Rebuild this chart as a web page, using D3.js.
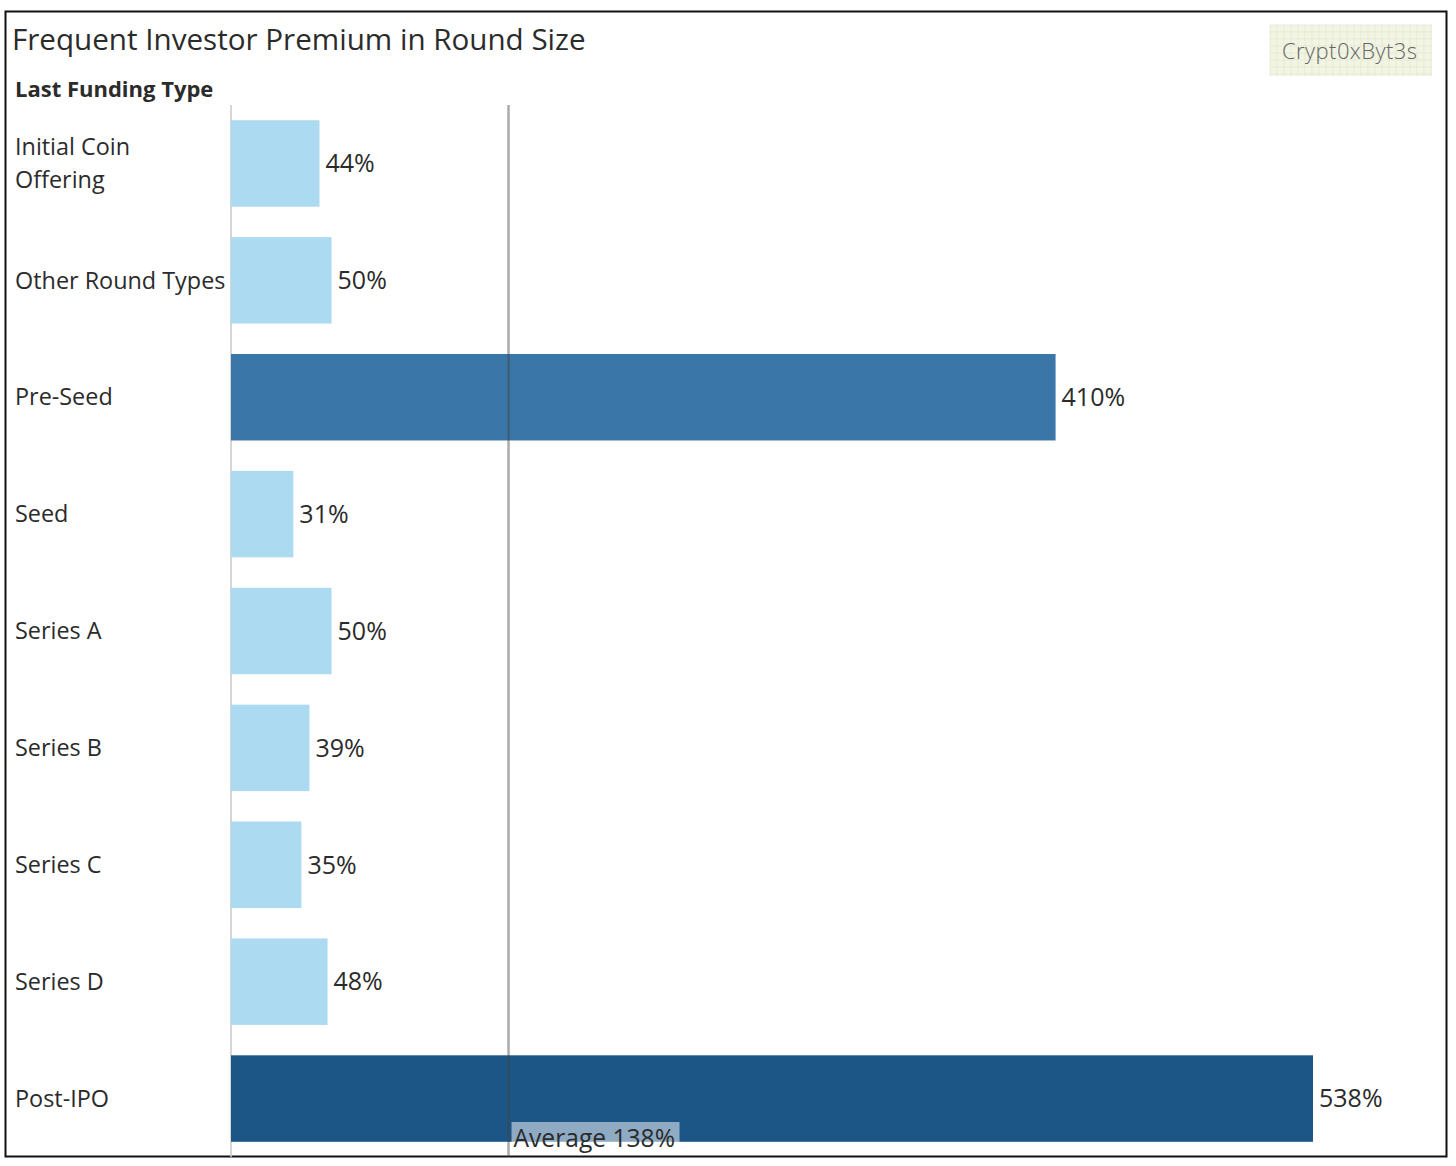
<!DOCTYPE html>
<html>
<head>
<meta charset="utf-8">
<script src="https://cdn.jsdelivr.net/npm/d3@7"></script>
<style>
  html, body { margin: 0; padding: 0; background: #fff; }
  svg { display: block; }
  text { font-family: "Open Sans", "Noto Sans", sans-serif; fill: #2b2b2b; }
</style>
</head>
<body>
<svg id="chart" width="1456" height="1166"></svg>
<script>
const categories = ["Initial Coin Offering", "Other Round Types", "Pre-Seed", "Seed", "Series A", "Series B", "Series C", "Series D", "Post-IPO"];
const categoryLines = [["Initial Coin", "Offering"], ["Other Round Types"], ["Pre-Seed"], ["Seed"], ["Series A"], ["Series B"], ["Series C"], ["Series D"], ["Post-IPO"]];
const premiums = [44, 50, 410, 31, 50, 39, 35, 48, 538];
const barColors = ["#acdaf1", "#acdaf1", "#3a76a8", "#acdaf1", "#acdaf1", "#acdaf1", "#acdaf1", "#acdaf1", "#1c5686"];
const averageValue = 138;
const titleText = "Frequent Investor Premium in Round Size";
const axisTitle = "Last Funding Type";
const watermark = "Crypt0xByt3s";

const svg = d3.select("#chart");

// outer border
svg.append("rect").attr("x", 5.5).attr("y", 11.5).attr("width", 1441).attr("height", 1145)
  .attr("fill", "#fff").attr("stroke", "#111").attr("stroke-width", 2);

svg.append("text").attr("x", 12).attr("y", 50).attr("font-size", 29.6).text(titleText);
svg.append("text").attr("x", 15).attr("y", 97).attr("font-size", 22).attr("font-weight", "bold").text(axisTitle);

// watermark
const wm = svg.append("g").attr("transform", "translate(1270,25)");
wm.append("rect").attr("width", 162).attr("height", 51).attr("fill", "#f3f5e4");
for (let gx = 0; gx <= 162; gx += 7) wm.append("line").attr("x1", gx).attr("x2", gx).attr("y1", 0).attr("y2", 51).attr("stroke", "#dfe6cd").attr("stroke-width", 0.7);
for (let gy = 0; gy <= 51; gy += 7) wm.append("line").attr("y1", gy).attr("y2", gy).attr("x1", 0).attr("x2", 162).attr("stroke", "#dfe6cd").attr("stroke-width", 0.7);
wm.append("text").attr("x", 12).attr("y", 34).attr("font-size", 22)
  .attr("font-family", "DejaVu Sans").attr("font-weight", 200).style("fill", "#666").attr("textLength", 135).text(watermark);

const x = d3.scaleLinear().domain([0, 538]).range([231, 1313]);
const y = d3.scaleBand().domain(categories).range([105, 1157]).paddingInner(0.26).paddingOuter(0.13);

// zero axis line
svg.append("line").attr("x1", x(0)).attr("x2", x(0)).attr("y1", 105).attr("y2", 1157)
  .attr("stroke", "#c8c8c8").attr("stroke-width", 1.5);

svg.append("g").selectAll("rect").data(categories).join("rect")
  .attr("x", x(0))
  .attr("y", d => y(d))
  .attr("width", (d, i) => x(premiums[i]) - x(0))
  .attr("height", y.bandwidth())
  .attr("fill", (d, i) => barColors[i]);

svg.append("g").selectAll("text").data(categories).join("text")
  .attr("x", (d, i) => x(premiums[i]) + 6)
  .attr("y", d => y(d) + y.bandwidth() / 2)
  .attr("dy", "0.35em")
  .attr("font-size", 25)
  .text((d, i) => premiums[i] + "%");

// category labels
categories.forEach((c, i) => {
  const lines = categoryLines[i];
  const cy = y(c) + y.bandwidth() / 2;
  const lh = 33;
  lines.forEach((ln, j) => {
    svg.append("text").attr("x", 15)
      .attr("y", cy + (j - (lines.length - 1) / 2) * lh)
      .attr("dy", "0.35em").attr("font-size", 23.4).text(ln);
  });
});

// average reference line
svg.append("line").attr("x1", x(averageValue)).attr("x2", x(averageValue)).attr("y1", 105).attr("y2", 1157)
  .attr("stroke", "#444").attr("stroke-opacity", 0.45).attr("stroke-width", 2.5);

const avgLabel = svg.append("g");
avgLabel.append("rect").attr("x", x(averageValue) + 3).attr("y", 1122).attr("width", 168).attr("height", 28)
  .attr("fill", "#fff").attr("fill-opacity", 0.5);
avgLabel.append("text").attr("x", x(averageValue) + 5).attr("y", 1147).attr("font-size", 24.6)
  .text("Average " + averageValue + "%");
</script>
</body>
</html>
